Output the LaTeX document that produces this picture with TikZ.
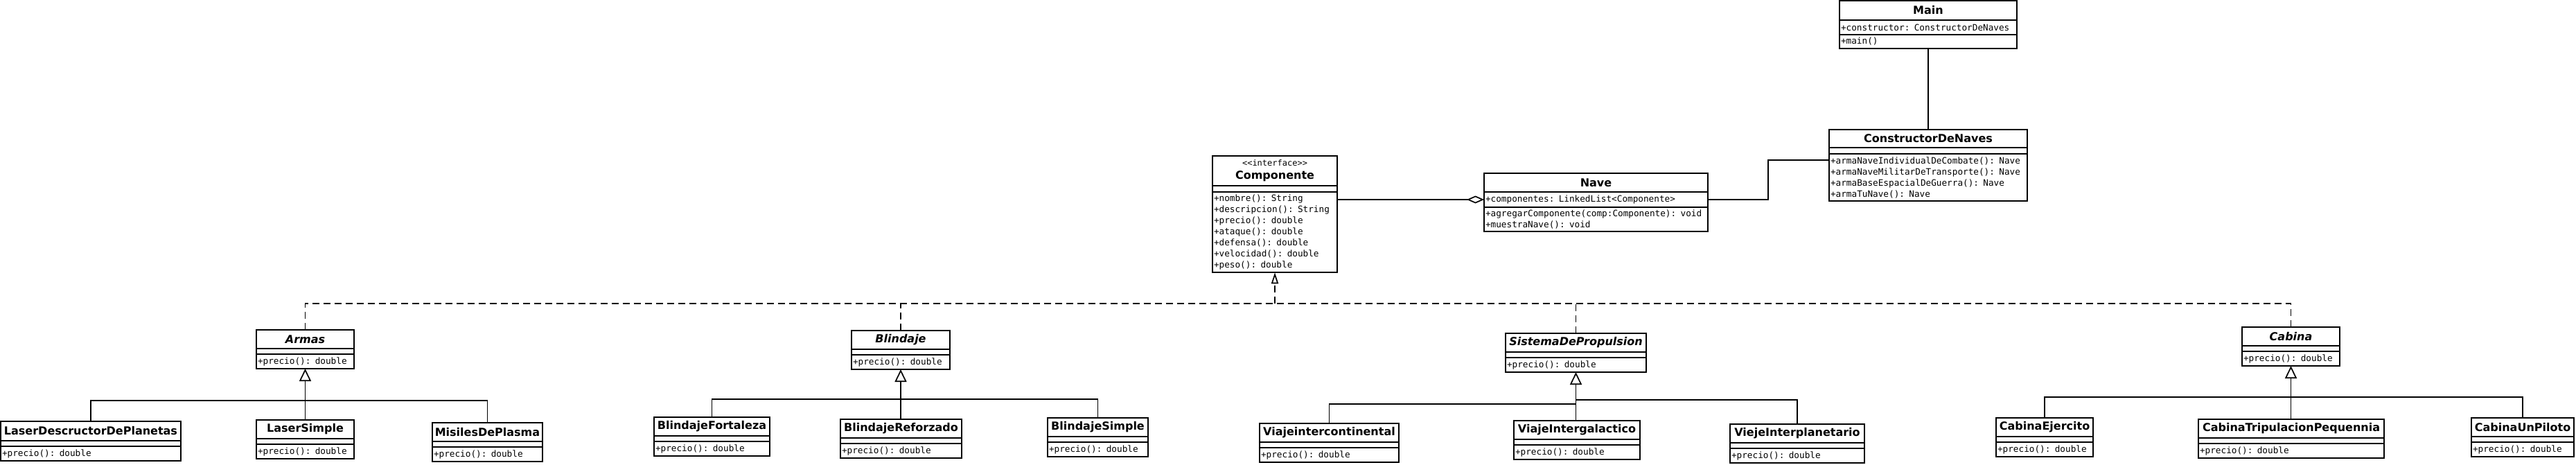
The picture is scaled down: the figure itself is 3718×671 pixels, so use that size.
\documentclass[tikz,border=0pt]{standalone}
\usepackage{fontspec}
\usetikzlibrary{positioning,arrows.meta,calc}
\newfontfamily\umlsans{DejaVu Sans}
\newfontfamily\umlmono{DejaVu Sans Mono}

\tikzset{
  compart/.style={draw, line width=1.7pt, outer sep=0pt, inner xsep=2pt, inner ysep=0pt},
  clsname/.style={compart, anchor=north west, minimum height=27pt, font=\umlsans\bfseries\fontsize{16}{19}\selectfont},
  absname/.style={clsname, font=\umlsans\bfseries\itshape\fontsize{16}{19}\selectfont},
  clsempty/.style={compart, minimum height=8pt},
  clsmembers/.style={compart, align=left, inner ysep=4pt, minimum height=21pt, font=\umlmono\fontsize{12.7}{16}\selectfont},
  assoc/.style={line width=1.7pt},
  aggr/.style={assoc, -{Diamond[open,length=25pt,width=11pt]}},
  realize/.style={assoc, dash pattern=on 10pt off 6pt},
  inherit/.style={assoc, -{Triangle[open,length=18pt,width=17pt]}},
}

\begin{document}
\begin{tikzpicture}[x=1pt,y=1pt,yscale=-1,xscale=1]
\useasboundingbox (0,0) rectangle (3718,671);

%Class: Main
\node [clsname, minimum width=256pt, minimum height=28pt] (main) at (2655,1) {Main};
\node [clsmembers, text width=252pt, below=0pt of main] (main-a) {+constructor: ConstructorDeNaves};
\node [clsmembers, text width=252pt, minimum height=20pt, below=0pt of main-a] (main-m) {+main()};

%Class: ConstructorDeNaves
\node [clsname, minimum width=286pt, minimum height=26pt] (cdn) at (2640,187) {ConstructorDeNaves};
\node [clsempty, minimum width=286pt, minimum height=9pt, below=0pt of cdn] (cdn-e) {};
\node [clsmembers, text width=282pt, minimum height=68pt, below=0pt of cdn-e] (cdn-m) {+armaNaveIndividualDeCombate(): Nave\\+armaNaveMilitarDeTransporte(): Nave\\+armaBaseEspacialDeGuerra(): Nave\\+armaTuNave(): Nave};

%Class: Nave
\node [clsname, minimum width=323pt] (nave) at (2142,250) {Nave};
\node [clsmembers, text width=319pt, minimum height=22pt, below=0pt of nave] (nave-a) {+componentes: LinkedList<Componente>};
\node [clsmembers, text width=319pt, minimum height=35pt, below=0pt of nave-a] (nave-m) {+agregarComponente(comp:Componente): void\\+muestraNave(): void};

%Interface: Componente
\node [clsname, minimum width=180pt, minimum height=43pt, align=center] (comp) at (1750,225) {{\umlmono\mdseries\fontsize{12}{14}\selectfont <\kern0pt<interface>\kern0pt>}\\Componente};
\node [clsempty, minimum width=180pt, minimum height=9pt, below=0pt of comp] (comp-e) {};
\node [clsmembers, text width=176pt, minimum height=116pt, below=0pt of comp-e] (comp-m) {+nombre(): String\\+descripcion(): String\\+precio(): double\\+ataque(): double\\+defensa(): double\\+velocidad(): double\\+peso(): double};

%Abstract: Armas
\node [absname, minimum width=141pt] (armas) at (370,476) {Armas};
\node [clsempty, minimum width=141pt, below=0pt of armas] (armas-e) {};
\node [clsmembers, text width=137pt, below=0pt of armas-e] (armas-m) {+precio(): double};

%Abstract: Blindaje
\node [absname, minimum width=142pt] (blindaje) at (1229,477) {Blindaje};
\node [clsempty, minimum width=142pt, below=0pt of blindaje] (blindaje-e) {};
\node [clsmembers, text width=138pt, below=0pt of blindaje-e] (blindaje-m) {+precio(): double};

%Abstract: SistemaDePropulsion
\node [absname, minimum width=203pt] (sistema) at (2173,481) {SistemaDePropulsion};
\node [clsempty, minimum width=203pt, below=0pt of sistema] (sistema-e) {};
\node [clsmembers, text width=199pt, below=0pt of sistema-e] (sistema-m) {+precio(): double};

%Abstract: Cabina
\node [absname, minimum width=141pt] (cabina) at (3236,472) {Cabina};
\node [clsempty, minimum width=141pt, below=0pt of cabina] (cabina-e) {};
\node [clsmembers, text width=137pt, below=0pt of cabina-e] (cabina-m) {+precio(): double};

%Class: LaserDescructorDePlanetas
\node [clsname, minimum width=260pt, minimum height=28pt] (lds) at (1,608) {LaserDescructorDePlanetas};
\node [clsempty, minimum width=260pt, below=0pt of lds] (lds-e) {};
\node [clsmembers, text width=256pt, below=0pt of lds-e] (lds-m) {+precio(): double};

%Class: LaserSimple
\node [clsname, minimum width=141pt] (lsimple) at (370,606) {LaserSimple};
\node [clsempty, minimum width=141pt, below=0pt of lsimple] (lsimple-e) {};
\node [clsmembers, text width=137pt, below=0pt of lsimple-e] (lsimple-m) {+precio(): double};

%Class: MisilesDePlasma
\node [clsname, minimum width=159pt] (misiles) at (624,610) {MisilesDePlasma};
\node [clsempty, minimum width=159pt, below=0pt of misiles] (misiles-e) {};
\node [clsmembers, text width=155pt, below=0pt of misiles-e] (misiles-m) {+precio(): double};

%Class: BlindajeFortaleza
\node [clsname, minimum width=167pt] (bfort) at (944,602) {BlindajeFortaleza};
\node [clsempty, minimum width=167pt, below=0pt of bfort] (bfort-e) {};
\node [clsmembers, text width=163pt, below=0pt of bfort-e] (bfort-m) {+precio(): double};

%Class: BlindajeReforzado
\node [clsname, minimum width=175pt] (bref) at (1213,605) {BlindajeReforzado};
\node [clsempty, minimum width=175pt, below=0pt of bref] (bref-e) {};
\node [clsmembers, text width=171pt, below=0pt of bref-e] (bref-m) {+precio(): double};

%Class: BlindajeSimple
\node [clsname, minimum width=145pt] (bsimple) at (1512,603) {BlindajeSimple};
\node [clsempty, minimum width=145pt, below=0pt of bsimple] (bsimple-e) {};
\node [clsmembers, text width=141pt, below=0pt of bsimple-e] (bsimple-m) {+precio(): double};

%Class: Viajeintercontinental
\node [clsname, minimum width=201pt] (vic) at (1818,611) {Viajeintercontinental};
\node [clsempty, minimum width=201pt, below=0pt of vic] (vic-e) {};
\node [clsmembers, text width=197pt, below=0pt of vic-e] (vic-m) {+precio(): double};

%Class: ViajeIntergalactico
\node [clsname, minimum width=182pt] (vig) at (2185,607) {ViajeIntergalactico};
\node [clsempty, minimum width=182pt, below=0pt of vig] (vig-e) {};
\node [clsmembers, text width=178pt, below=0pt of vig-e] (vig-m) {+precio(): double};

%Class: ViejeInterplanetario
\node [clsname, minimum width=194pt] (vip) at (2497,612) {ViejeInterplanetario};
\node [clsempty, minimum width=194pt, below=0pt of vip] (vip-e) {};
\node [clsmembers, text width=190pt, below=0pt of vip-e] (vip-m) {+precio(): double};

%Class: CabinaEjercito
\node [clsname, minimum width=140pt] (cejer) at (2881,603) {CabinaEjercito};
\node [clsempty, minimum width=140pt, below=0pt of cejer] (cejer-e) {};
\node [clsmembers, text width=136pt, below=0pt of cejer-e] (cejer-m) {+precio(): double};

%Class: CabinaTripulacionPequennia
\node [clsname, minimum width=268pt] (ctrip) at (3173,605) {CabinaTripulacionPequennia};
\node [clsempty, minimum width=268pt, below=0pt of ctrip] (ctrip-e) {};
\node [clsmembers, text width=264pt, below=0pt of ctrip-e] (ctrip-m) {+precio(): double};

%Class: CabinaUnPiloto
\node [clsname, minimum width=148pt] (cpil) at (3567,603) {CabinaUnPiloto};
\node [clsempty, minimum width=148pt, below=0pt of cpil] (cpil-e) {};
\node [clsmembers, text width=144pt, below=0pt of cpil-e] (cpil-m) {+precio(): double};

%Straight Lines: associations
\draw [assoc] (main-m.south) -- (main-m.south |- cdn.north);
\draw [assoc] (nave-a.east) -- ++(87,0) |- ($(cdn-m.north west)+(0,9)$);
\draw [aggr] (nave-a.west -| comp-m.east) -- (nave-a.west);

%Dashed Lines: realization
\coordinate (real-j) at (1840,438);
\draw [realize, -{Triangle[open,length=16pt,width=10pt]}] (real-j) -- (comp-m.south);
\draw [realize] (armas.north) |- (real-j) -| (cabina.north);
\draw [realize] (blindaje.north) -- (blindaje.north |- real-j);
\draw [realize] (sistema.north) -- (sistema.north |- real-j);

%Straight Lines: generalization
\coordinate (armas-j) at (440.5,578);
\draw [inherit] (armas-m.south |- lsimple.north) -- (armas-m.south);
\draw [assoc] (lds.north) |- (armas-j) -| (misiles.north);

\coordinate (blindaje-j) at (1300,576);
\draw [inherit] (blindaje-m.south |- bref.north) -- (blindaje-m.south);
\draw [assoc] (bfort.north) |- (blindaje-j) -| (bsimple.north);

\coordinate (sistema-jl) at (2274.5,583);
\coordinate (sistema-jr) at (2274.5,577);
\draw [inherit] (sistema-m.south |- vig.north) -- (sistema-m.south);
\draw [assoc] (vic.north) |- (sistema-jl) -- (sistema-jr) -| (vip.north);

\coordinate (cabina-j) at (3306.5,573);
\draw [inherit] (cabina-m.south |- ctrip.north) -- (cabina-m.south);
\draw [assoc] (cejer.north) |- (cabina-j) -| (cpil.north);

\end{tikzpicture}
\end{document}
